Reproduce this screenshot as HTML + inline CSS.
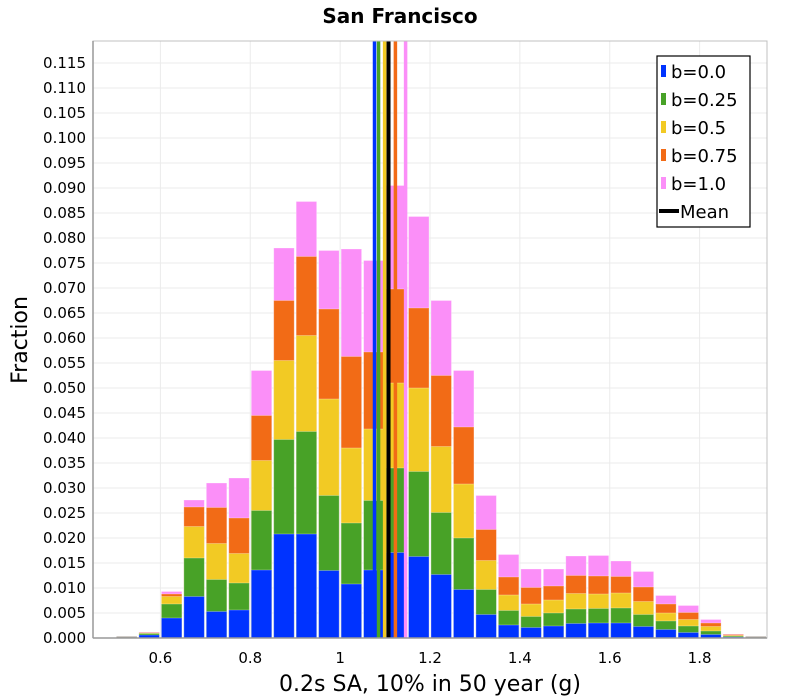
<!DOCTYPE html>
<html><head><meta charset="utf-8"><style>
body{margin:0;background:#fff;}
svg{display:block;font-family:"DejaVu Sans","Liberation Sans",sans-serif;}
</style></head><body>
<svg id="chart" width="800" height="700">
<text x="400" y="23" text-anchor="middle" font-size="20" font-weight="bold">San Francisco</text>
<g id="grid"></g>
<g id="bars"></g>
<g id="means"></g>
<rect x="93" y="41" width="674" height="597" fill="none" stroke="#c0c0c0" stroke-width="1"/>
<line x1="93" y1="638" x2="767" y2="638" stroke="#999" stroke-width="1.5"/>
<line x1="93" y1="41" x2="93" y2="638" stroke="#999" stroke-width="1.5"/>
<g id="yticks"></g>
<g id="xticks"></g>
<text x="430" y="691" text-anchor="middle" font-size="22">0.2s SA, 10% in 50 year (g)</text>
<text transform="translate(27,340) rotate(-90)" text-anchor="middle" font-size="22">Fraction</text>
<g>
<rect x="657" y="56" width="93" height="171" fill="#fff" stroke="#000" stroke-width="1.2"/>
<g id="legend"></g>
</g>
</svg>
<script>
const binStarts=[0.5,0.55,0.6,0.65,0.7,0.75,0.8,0.85,0.9,0.95,1.0,1.05,1.1,1.15,1.2,1.25,1.3,1.35,1.4,1.45,1.5,1.55,1.6,1.65,1.7,1.75,1.8,1.85,1.9];
const binWidth=0.05;
const seriesNames=["b=0.0","b=0.25","b=0.5","b=0.75","b=1.0"];
const seriesColors=["#0033ff","#48a227","#f2ca24","#f26b16","#fb8ff8"];
// cumulative stacked tops per series
const cumB00=[0,0.0006,0.0040,0.0083,0.0053,0.0056,0.0136,0.0208,0.0208,0.0135,0.0108,0.0136,0.0171,0.0163,0.0127,0.0097,0.0047,0.0026,0.0021,0.0024,0.0029,0.0030,0.0030,0.0023,0.0017,0.0011,0.0007,0.0002,0];
const cumB025=[0,0.0009,0.0068,0.0160,0.0117,0.0110,0.0255,0.0397,0.0413,0.0285,0.0230,0.0275,0.0340,0.0333,0.0251,0.0200,0.0097,0.0055,0.0043,0.0050,0.0058,0.0059,0.0060,0.0047,0.0034,0.0024,0.0014,0.0004,0];
const cumB05=[0,0.0010,0.0083,0.0223,0.0189,0.0169,0.0355,0.0555,0.0605,0.0478,0.0380,0.0418,0.0510,0.0500,0.0383,0.0308,0.0155,0.0086,0.0068,0.0076,0.0089,0.0088,0.0090,0.0073,0.0050,0.0037,0.0023,0.0005,0];
const cumB075=[0,0.0011,0.0088,0.0262,0.0261,0.0240,0.0445,0.0675,0.0763,0.0658,0.0563,0.0572,0.0698,0.0660,0.0525,0.0422,0.0217,0.0122,0.0101,0.0104,0.0125,0.0124,0.0123,0.0102,0.0068,0.0051,0.0030,0.0007,0];
const cumB10=[0,0.0012,0.0093,0.0276,0.0310,0.0320,0.0535,0.0780,0.0873,0.0775,0.0778,0.0755,0.0905,0.0843,0.0675,0.0535,0.0285,0.0167,0.0138,0.0138,0.0164,0.0165,0.0154,0.0133,0.0085,0.0065,0.0037,0.0008,0];
const meanValues=[1.0765,1.0855,1.099,1.123,1.1457];
const overallMean=1.1077;
const yTickValues=[0,0.005,0.01,0.015,0.02,0.025,0.03,0.035,0.04,0.045,0.05,0.055,0.06,0.065,0.07,0.075,0.08,0.085,0.09,0.095,0.1,0.105,0.11,0.115];
const xTickValues=[0.6,0.8,1.0,1.2,1.4,1.6,1.8];
const xTickLabels=["0.6","0.8","1","1.2","1.4","1.6","1.8"];

const X0=93,X1=767,Y0=638,Y1=41,xmin=0.45,xmax=1.95,ymin=0,ymax=0.1194;
const xs=v=>X0+(v-xmin)/(xmax-xmin)*(X1-X0);
const ys=v=>Y0-(v-ymin)/(ymax-ymin)*(Y0-Y1);
const NS="http://www.w3.org/2000/svg";
function mk(tag,attrs,parent){const e=document.createElementNS(NS,tag);for(const k in attrs)e.setAttribute(k,attrs[k]);parent.appendChild(e);return e;}
const grid=document.getElementById('grid'),bars=document.getElementById('bars'),means=document.getElementById('means'),yt=document.getElementById('yticks'),xt=document.getElementById('xticks'),lg=document.getElementById('legend');
yTickValues.forEach(v=>{
  const l=mk('line',{x1:X0,x2:X1,y1:ys(v),y2:ys(v),stroke:'#ebebeb','stroke-width':1},grid);
  
  
  const t=mk('text',{x:86,y:ys(v)+5,'text-anchor':'end','font-size':15},yt);
  t.textContent=v.toFixed(3);
  
  
});
xTickValues.forEach((v,i)=>{
  const l=mk('line',{x1:xs(v),x2:xs(v),y1:Y1,y2:Y0,stroke:'#ebebeb','stroke-width':1},grid);
  
  
  const t=mk('text',{x:xs(v),y:663,'text-anchor':'middle','font-size':15},xt);
  t.textContent=xTickLabels[i];
  
  
});
const cums=[cumB00,cumB025,cumB05,cumB075,cumB10];
binStarts.forEach((b,i)=>{
  const xa=xs(b)+1,xb=xs(b+binWidth)-1;
  if(cumB10[i]<=0){
    const z=mk('rect',{x:xa,y:Y0-1.5,width:xb-xa,height:1.5,fill:'#a09a90'},bars);
    
    
    return;
  }
  for(let s=cums.length-1;s>=0;s--){
    const top=ys(cums[s][i]);
    const r=mk('rect',{x:xa,y:top,width:xb-xa,height:Y0-top,fill:seriesColors[s],stroke:'rgba(255,255,255,0.35)','stroke-width':0.8},bars);
    
    
  }
});
meanValues.forEach((m,s)=>{
  const l=mk('line',{x1:xs(m),x2:xs(m),y1:Y1,y2:Y0,stroke:seriesColors[s],'stroke-width':3.5},means);
  
  
});
const ml=mk('line',{x1:xs(overallMean),x2:xs(overallMean),y1:Y1,y2:Y0,stroke:'#000','stroke-width':4},means);


seriesNames.forEach((n,s)=>{
  const y=71+s*28;
  const sw=mk('rect',{x:661,y:y-6,width:5,height:12,fill:seriesColors[s]},lg);
  
  
  const t=mk('text',{x:671,y:y+7,'font-size':18},lg);
  t.textContent=n;
  
  
});
const lm=mk('rect',{x:659,y:209,width:20,height:4,fill:'#000'},lg);


const lt=mk('text',{x:680,y:218,'font-size':18},lg);
lt.textContent='Mean';


</script>
</body></html>
